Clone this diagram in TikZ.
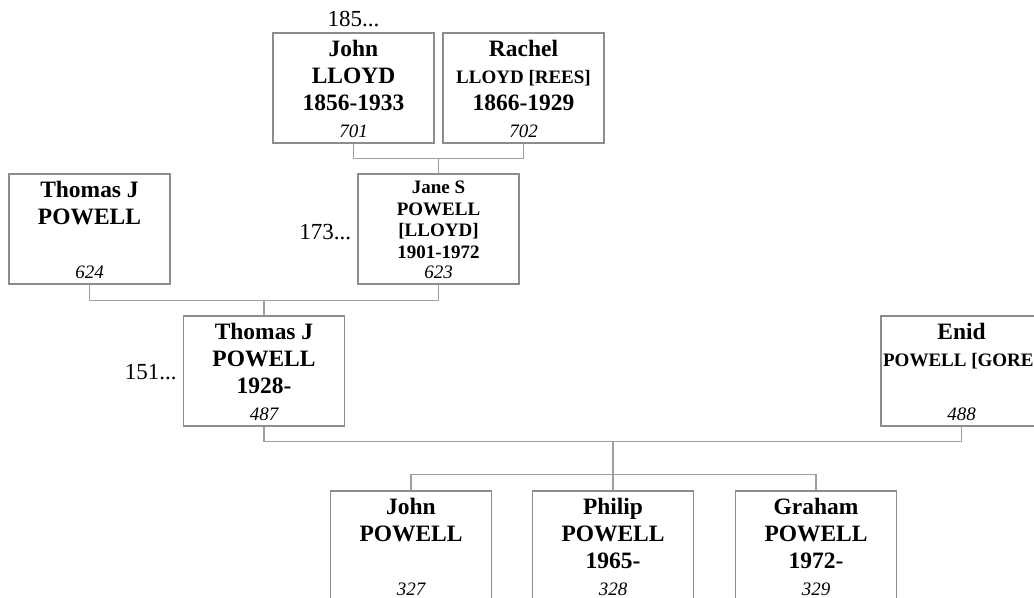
\documentclass[tikz,border=0pt]{standalone}
\usepackage{fontspec}
\setmainfont{Liberation Serif}
\usetikzlibrary{positioning,calc}
\definecolor{boxLine}{HTML}{8C8C8C}
\definecolor{linkLine}{HTML}{9E9E9E}
\newcommand{\bigname}{\fontsize{17.6pt}{20.25pt}\selectfont\bfseries}
\newcommand{\smallname}{\fontsize{14.25pt}{16.1pt}\selectfont\bfseries}
\tikzset{
  personbox/.style={draw=boxLine, line width=0.9pt, minimum width=120.75pt,
    minimum height=82.5pt, inner sep=0pt},
  nametext/.style={anchor=north, align=center, inner sep=0pt},
  numtext/.style={anchor=base, inner sep=0pt,
    font=\fontsize{14.25pt}{16pt}\selectfont\itshape},
  gentext/.style={inner sep=0pt, font=\fontsize{17.25pt}{20pt}\selectfont},
  link/.style={draw=linkLine, line width=0.9pt},
}
% one box of the tree: box, name lines at the top, number at the bottom
\newcommand{\person}[5][\bigname]{%
  \node[personbox] (#2) at (#3) {};
  \node[nametext, font=#1] (#2-name) at ($(#2.north)+(0,5)$) {\strut#4};
  \node[numtext] (#2-num) at ($(#2.south)+(0,-6)$) {#5};
}

\begin{document}
\begin{tikzpicture}[x=0.75pt, y=-0.75pt]
  \useasboundingbox (0,0) rectangle (1034,598);
  % grandparents
  \person{johnL}{353.5,88}{John\\LLOYD\\1856-1933}{701}
  \person{rachelL}{523.5,88}{Rachel\\{\smallname LLOYD [REES]}\\1866-1929}{702}
  % parents
  \person{thomasP}{89.5,229}{Thomas J\\POWELL}{624}
  \person[\smallname]{janeP}{438.5,229}{Jane S\\POWELL\\{[LLOYD]}\\1901-1972}{623}
  \person{thomasJ}{264,371}{Thomas J\\POWELL\\1928-}{487}
  \person{enidP}{961.5,371}{Enid\\{\smallname POWELL [GORE]}}{488}
  % children
  \person{johnP}{411,546}{John\\POWELL}{327}
  \person{philipP}{613,546}{Philip\\POWELL\\1965-}{328}
  \person{grahamP}{816,546}{Graham\\POWELL\\1972-}{329}
  % generation labels
  \node[gentext, anchor=south] (gen185) at ($(johnL.north)+(0,-5)$) {185...};
  \node[gentext, anchor=east] (gen173) at ($(janeP.west)+(-6,3)$) {173...};
  \node[gentext, anchor=east] (gen151) at ($(thomasJ.west)+(-6,1)$) {151...};
  % couples and their children
  \coordinate (fam1) at ($(johnL.south)+(0,15)$);
  \draw[link] (johnL.south) -- (fam1) -| (rachelL.south);
  \draw[link] (janeP.north) -- (janeP.north |- fam1);
  \coordinate (fam2) at ($(thomasP.south)+(0,16)$);
  \draw[link] (thomasP.south) -- (fam2) -| (janeP.south);
  \draw[link] (thomasJ.north) -- (thomasJ.north |- fam2);
  \coordinate (fam3) at ($(thomasJ.south)+(0,15)$);
  \draw[link] (thomasJ.south) -- (fam3) -| (enidP.south);
  \coordinate (kids) at ($(philipP.north)+(0,-16)$);
  \draw[link] (philipP.north) -- (philipP.north |- fam3);
  \draw[link] (johnP.north) |- (kids) -| (grahamP.north);
\end{tikzpicture}
\end{document}
